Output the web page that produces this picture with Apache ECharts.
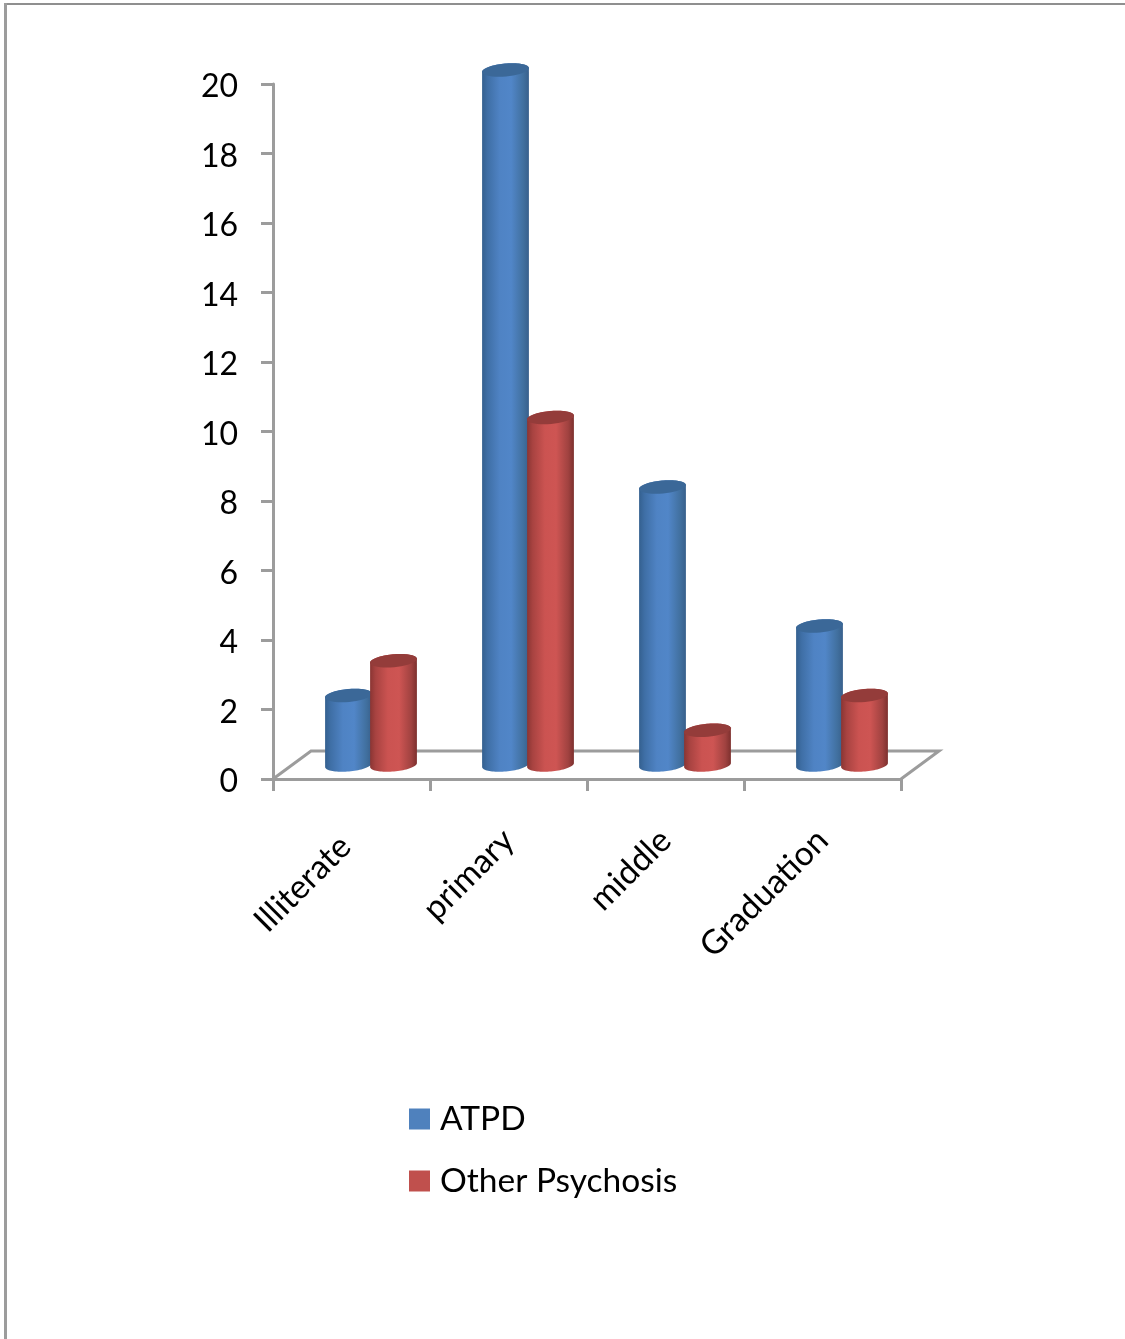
<!DOCTYPE html>
<html>
<head>
<meta charset="utf-8">
<style>html,body{margin:0;padding:0;background:#fff}#chart{width:1125px;height:1339px}</style>
<script src="https://cdn.jsdelivr.net/npm/echarts@6/dist/echarts.min.js"></script>
</head>
<body>
<div id="chart"></div>
<script>
const categories = ['Illiterate', 'primary', 'middle', 'Graduation'];
const atpd = [2, 20, 8, 4];
const otherPsychosis = [3, 10, 1, 2];

const FONT = 'Lato';
const AXIS_COLOR = '#9c9c9c';
const TILT = 0.09;          // cylinder caps lean up to the right
const RX = 23.5, RY = 6.5;
const DEPTH_X = 38, DEPTH_Y = 28; // depth of the floor
const BAR_LIFT = 14;              // columns stand in the middle of the floor depth
const COL_SHIFT = [-3, 42];       // column centres relative to the band centre

function ellipsePoint(cx, cy, t) {
  const c = Math.cos(t), s = Math.sin(t);
  return [
    cx + RX * c * Math.cos(TILT) - RY * s * Math.sin(TILT),
    cy - RX * c * Math.sin(TILT) - RY * s * Math.cos(TILT)
  ];
}
function arc(cx, cy, from, to) {
  const out = [];
  for (let i = 0; i <= 40; i++) out.push(ellipsePoint(cx, cy, from + (to - from) * i / 40));
  return out;
}
function sideGradient(stops) {
  return new echarts.graphic.LinearGradient(0, 0, 1, 0,
    stops.map(s => ({ offset: s[0], color: s[1] })));
}

function cylinder(colIndex, sideStops, capColor) {
  return function (params, api) {
    const band = api.size([1, 0])[0];
    const x = api.coord([api.value(0), 0])[0] + COL_SHIFT[colIndex] * band / 157;
    const y0 = api.coord([api.value(0), 0])[1] - BAR_LIFT;
    const yv = api.coord([api.value(0), api.value(1)])[1] - BAR_LIFT;
    const body = arc(x, yv, 0, Math.PI).concat(arc(x, y0, Math.PI, 2 * Math.PI));
    return {
      type: 'group',
      children: [
        { type: 'polygon', shape: { points: body }, style: { fill: sideGradient(sideStops) } },
        { type: 'polygon', shape: { points: arc(x, yv, 0, 2 * Math.PI) }, style: { fill: capColor } }
      ]
    };
  };
}

function floorOutline(params, api) {
  const band = api.size([1, 0])[0];
  const c0 = api.coord([0, 0]);
  const c1 = api.coord([categories.length - 1, 0]);
  const left = c0[0] - band / 2, right = c1[0] + band / 2, y = c0[1];
  return {
    type: 'polyline',
    shape: { points: [[left, y], [left + DEPTH_X, y - DEPTH_Y], [right + DEPTH_X, y - DEPTH_Y], [right, y]] },
    style: { stroke: AXIS_COLOR, lineWidth: 3, fill: null }
  };
}

const blueStops = [[0, '#34608f'], [0.12, '#3f6fa6'], [0.38, '#4f83c4'], [0.62, '#5186c8'], [0.88, '#41709f'], [1, '#38608c']];
const redStops = [[0, '#8a3533'], [0.12, '#a84341'], [0.38, '#cb5351'], [0.62, '#ce5553'], [0.88, '#a04240'], [1, '#7d302e']];

const chart = echarts.init(document.getElementById('chart'), null, { renderer: 'canvas' });
chart.setOption({
  animation: false,
  backgroundColor: '#fff',
  graphic: [
    { type: 'rect', shape: { x: 4, y: 3, width: 1121, height: 2 }, style: { fill: '#8f8f8f' } },
    { type: 'rect', shape: { x: 4, y: 3, width: 3, height: 1336 }, style: { fill: '#9c9c9c' } }
  ],
  grid: { left: 273, top: 84, width: 628, height: 695 },
  legend: {
    orient: 'vertical',
    left: 404,
    top: 1097,
    icon: 'rect',
    itemWidth: 21,
    itemHeight: 21,
    itemGap: 28,
    data: ['ATPD', 'Other Psychosis'],
    textStyle: { fontFamily: FONT, fontSize: 33.5, color: '#000', padding: [0, 0, 0, 5] }
  },
  xAxis: {
    type: 'category',
    data: categories,
    axisLine: { lineStyle: { color: AXIS_COLOR, width: 3 } },
    axisTick: { show: true, alignWithLabel: false, length: 12, lineStyle: { color: AXIS_COLOR, width: 3 } },
    axisLabel: {
      rotate: 45, margin: 56, fontFamily: FONT, fontSize: 33.5, color: '#000', interval: 0,
      // the first label sits a little further down its slope
      formatter: (v, i) => (i === 0 ? v + ' ' : v)
    }
  },
  yAxis: {
    type: 'value',
    min: 0,
    max: 20,
    interval: 2,
    splitLine: { show: false },
    axisLine: { show: true, lineStyle: { color: AXIS_COLOR, width: 3 } },
    axisTick: { show: true, length: 12, lineStyle: { color: AXIS_COLOR, width: 3 } },
    axisLabel: { margin: 35, fontFamily: FONT, fontSize: 32, color: '#000', verticalAlign: 'top', lineHeight: 6 }
  },
  series: [
    { type: 'custom', name: 'floor', silent: true, z: 1, renderItem: floorOutline, data: [[0, 0]] },
    {
      type: 'custom', name: 'ATPD', z: 2,
      itemStyle: { color: '#4f81bd' },
      renderItem: cylinder(0, blueStops, '#3b6898'),
      data: atpd.map((v, i) => [i, v])
    },
    {
      type: 'custom', name: 'Other Psychosis', z: 3,
      itemStyle: { color: '#c0504d' },
      renderItem: cylinder(1, redStops, '#943c3a'),
      data: otherPsychosis.map((v, i) => [i, v])
    }
  ]
});
</script>
</body>
</html>
